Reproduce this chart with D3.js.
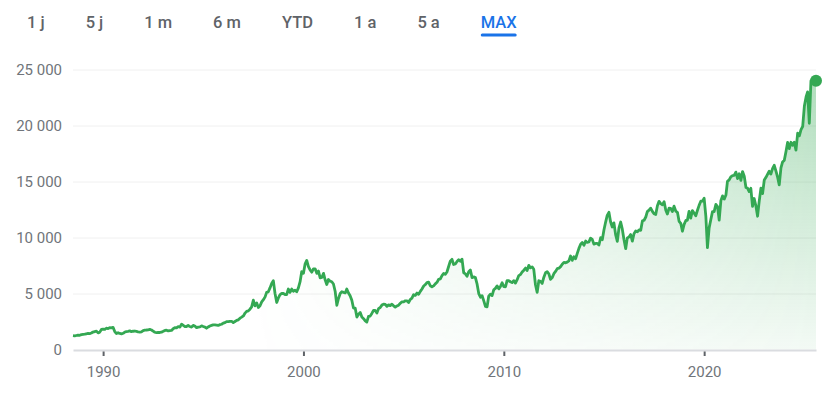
<!DOCTYPE html>
<html>
<head>
<meta charset="utf-8">
<title>DAX - MAX</title>
<script src="https://d3js.org/d3.v7.min.js"></script>
<style>
  body { margin: 0; background: #fff; font-family: Roboto, "Noto Sans", Arial, sans-serif; }
  .tab { font-size: 16.5px; font-weight: 500; fill: #5f6368; }
  .tab.active { fill: #1a73e8; }
  .axis text { font-family: Roboto, Arial, sans-serif; font-size: 15px; fill: #70757a; }
</style>
</head>
<body>
<svg id="chart" width="826" height="394"></svg>
<script>
// range buttons
const tabs = ["1 j", "5 j", "1 m", "6 m", "YTD", "1 a", "5 a", "MAX"];
const activeTab = "MAX";

// y axis ticks
const yTicks = [0, 5000, 10000, 15000, 20000, 25000];

// first month of the series (July 1988), one value per month after that
const firstMonth = [1988, 6];

// monthly index levels
const closes = [
  // 1988 (Jul-Dec)
  1230, 1210, 1250, 1290, 1270, 1328,
  // 1989
  1350, 1370, 1400, 1430, 1420, 1470, 1560, 1600, 1640, 1480, 1550, 1790,
  // 1990
  1820, 1790, 1900, 1870, 1950, 1930, 1980, 1600, 1430, 1500, 1430, 1400,
  // 1991
  1450, 1560, 1600, 1620, 1660, 1600, 1630, 1650, 1610, 1570, 1560, 1578,
  // 1992
  1690, 1730, 1740, 1760, 1790, 1740, 1640, 1540, 1500, 1520, 1520, 1545,
  // 1993
  1620, 1700, 1720, 1660, 1690, 1700, 1850, 1950, 1930, 2050, 2000, 2267,
  // 1994
  2150, 2050, 2050, 2150, 2050, 2000, 2150, 2100, 1950, 2000, 2020, 2107,
  // 1995
  2050, 2000, 1900, 2010, 2100, 2150, 2200, 2200, 2180, 2150, 2220, 2254,
  // 1996
  2350, 2400, 2490, 2490, 2520, 2520, 2400, 2500, 2600, 2650, 2800, 2889,
  // 1997
  3000, 3250, 3400, 3450, 3600, 3800, 4400, 3900, 4150, 3750, 3900, 4250,
  // 1998
  4450, 4700, 5100, 5150, 5500, 5900, 6150, 5000, 4200, 4600, 4900, 5000,
  // 1999
  5000, 4900, 4900, 5400, 5100, 5400, 5200, 5300, 5150, 5500, 6050, 6958,
  // 2000
  6800, 7650, 7950, 7400, 7100, 6900, 7200, 7200, 6800, 7000, 6400, 6433,
  // 2001
  6800, 6200, 5800, 6250, 6100, 6050, 5850, 5200, 3950, 4550, 5000, 5160,
  // 2002
  5100, 5050, 5400, 5050, 4800, 4400, 3700, 3700, 2900, 3150, 3300, 2893,
  // 2003
  2750, 2550, 2450, 2950, 2980, 3220, 3480, 3480, 3260, 3650, 3750, 3965,
  // 2004
  4050, 4020, 3850, 3985, 3920, 4050, 3900, 3780, 3890, 3960, 4130, 4256,
  // 2005
  4250, 4350, 4350, 4200, 4460, 4590, 4890, 4830, 5040, 4930, 5190, 5408,
  // 2006
  5670, 5800, 5970, 6010, 5690, 5600, 5680, 5860, 6000, 6270, 6310, 6597,
  // 2007
  6790, 6720, 6920, 7410, 7880, 8050, 7590, 7640, 7860, 8020, 7870, 8067,
  // 2008
  6850, 6750, 6530, 6950, 7100, 6420, 6480, 6420, 5830, 4990, 4670, 4810,
  // 2009
  4340, 3840, 3800, 4770, 4940, 4810, 5330, 5460, 5680, 5410, 5630, 5957,
  // 2010
  5610, 5600, 6150, 6140, 6050, 5970, 6150, 5930, 6230, 6600, 6690, 6914,
  // 2011
  7080, 7270, 7040, 7510, 7290, 7380, 7160, 5780, 5100, 6140, 6090, 5898,
  // 2012
  6460, 6860, 6950, 6760, 6260, 6420, 6770, 6970, 7220, 7260, 7400, 7612,
  // 2013
  7780, 7740, 7800, 7910, 8350, 7960, 8280, 8100, 8590, 9030, 9400, 9552,
  // 2014
  9310, 9690, 9560, 9600, 9940, 9830, 9410, 9470, 9470, 9330, 9980, 9806,
  // 2015
  10690, 11400, 11970, 12250, 11410, 10940, 11310, 10260, 9660, 10850, 11380, 10743,
  // 2016
  9800, 9000, 9965, 10040, 10260, 9680, 10340, 10590, 10510, 10670, 10640, 11481,
  // 2017
  11540, 11830, 12310, 12440, 12620, 12330, 12120, 12060, 12830, 13230, 13020, 12918,
  // 2018
  13190, 12440, 12100, 12610, 12600, 12310, 12800, 12360, 12250, 11450, 11260, 10559,
  // 2019
  11170, 11520, 11530, 12340, 11730, 12400, 12190, 11940, 12430, 12870, 13240, 13249,
  // 2020
  13500, 11890, 9100, 10860, 11590, 12310, 12310, 12950, 12760, 11560, 13290, 13719,
  // 2021
  13430, 13790, 15010, 15140, 15420, 15530, 15540, 15840, 15260, 15690, 15100, 15885,
  // 2022
  15470, 14460, 14410, 14100, 14390, 12780, 13480, 12830, 11900, 13250, 14400, 13924,
  // 2023
  15130, 15370, 15630, 15920, 15660, 16150, 16450, 15950, 15390, 14700, 16220, 16752,
  // 2024
  16900, 17680, 18490, 17930, 18500, 18240, 18510, 17800, 19320, 19080, 19630, 19909,
  // 2025 (Jan-Aug)
  21730, 22550, 23000, 20200, 23990, 23910, 24290, 24000
];

const data = closes.map((v, i) => ({
  date: new Date(firstMonth[0], firstMonth[1] + i, 1),
  value: v
}));

const svg = d3.select("#chart");
const green = "#34a853";

// plot area
const plotLeft = 73, plotRight = 816, plotTop = 69.5, plotBottom = 349.5;

const x = d3.scaleTime()
  .domain(d3.extent(data, d => d.date))
  .range([plotLeft, plotRight]);

const y = d3.scaleLinear()
  .domain([0, 25000])
  .range([plotBottom, plotTop]);

const fmt = d3.formatLocale({ decimal: ",", thousands: "\u00a0", grouping: [3], currency: ["", " €"] }).format(",d");

// tabs
const tabG = svg.append("g");
let cursor = 27;
tabs.forEach(t => {
  const txt = tabG.append("text")
    .attr("class", t === activeTab ? "tab active" : "tab")
    .attr("x", cursor)
    .attr("y", 28)
    .text(t);
  const w = txt.node().getComputedTextLength();
  if (t === activeTab) {
    tabG.append("line")
      .attr("x1", cursor + 1.5).attr("x2", cursor + w - 1.5)
      .attr("y1", 35).attr("y2", 35)
      .attr("stroke", "#1a73e8")
      .attr("stroke-width", 3)
      .attr("stroke-linecap", "round");
  }
  cursor += w + 41;
});

// grid + y labels
const yAxis = svg.append("g")
  .attr("class", "axis")
  .attr("transform", `translate(${plotLeft},0)`)
  .call(d3.axisLeft(y).tickValues(yTicks).tickFormat(fmt).tickSize(-(plotRight - plotLeft)).tickPadding(11));
yAxis.select(".domain").remove();
yAxis.selectAll(".tick line")
  .attr("stroke", "#f0f0f0")
  .attr("stroke-width", 1)
  .filter(d => d === 0).remove();

// area fill: vertical fade, masked by a horizontal fade
const defs = svg.append("defs");
const vGrad = defs.append("linearGradient")
  .attr("id", "areaFill")
  .attr("gradientUnits", "userSpaceOnUse")
  .attr("x1", 0).attr("y1", plotTop)
  .attr("x2", 0).attr("y2", plotBottom);
vGrad.append("stop").attr("offset", "0").attr("stop-color", green).attr("stop-opacity", 0.4);
vGrad.append("stop").attr("offset", "1").attr("stop-color", green).attr("stop-opacity", 0.06);

const hGrad = defs.append("linearGradient")
  .attr("id", "fadeLeft")
  .attr("gradientUnits", "userSpaceOnUse")
  .attr("x1", 250).attr("y1", 0)
  .attr("x2", plotRight).attr("y2", 0);
hGrad.append("stop").attr("offset", "0").attr("stop-color", "#000");
hGrad.append("stop").attr("offset", "1").attr("stop-color", "#fff");

defs.append("mask")
  .attr("id", "areaMask")
  .attr("maskUnits", "userSpaceOnUse")
  .attr("x", 0).attr("y", 0).attr("width", 826).attr("height", 394)
  .append("rect")
  .attr("width", 826).attr("height", 394)
  .attr("fill", "url(#fadeLeft)");

svg.append("path")
  .datum(data)
  .attr("fill", "url(#areaFill)")
  .attr("mask", "url(#areaMask)")
  .attr("d", d3.area().x(d => x(d.date)).y0(plotBottom).y1(d => y(d.value)));

// x axis
const xAxis = svg.append("g")
  .attr("class", "axis")
  .attr("transform", `translate(0,${plotBottom + 0.5})`)
  .call(d3.axisBottom(x).ticks(d3.timeYear.every(10)).tickSize(6).tickPadding(10).tickSizeOuter(0));
xAxis.select(".domain").attr("stroke", "#dadce0").attr("stroke-width", 2);
xAxis.selectAll(".tick line").attr("stroke", "#5f6368").attr("stroke-width", 2).attr("y1", 1.5);

// price line
svg.append("path")
  .datum(data)
  .attr("fill", "none")
  .attr("stroke", green)
  .attr("stroke-width", 2.8)
  .attr("stroke-linejoin", "round")
  .attr("d", d3.line().x(d => x(d.date)).y(d => y(d.value)));

// end point
const last = data[data.length - 1];
svg.append("circle")
  .attr("cx", x(last.date))
  .attr("cy", y(last.value))
  .attr("r", 6)
  .attr("fill", green);
</script>
</body>
</html>
